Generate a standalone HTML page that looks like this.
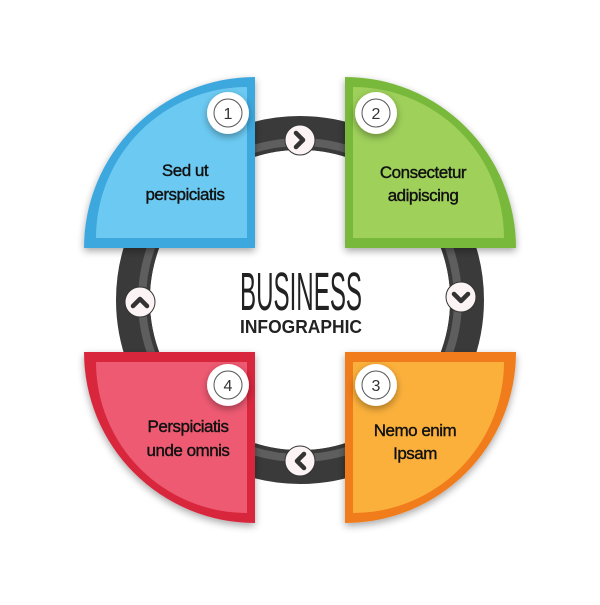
<!DOCTYPE html>
<html><head><style>body{margin:0;background:#fff}</style></head><body>
<svg width="600" height="600" viewBox="0 0 600 600" xmlns="http://www.w3.org/2000/svg" font-family="Liberation Sans, sans-serif">
<defs>
<filter id="sh" x="-20%" y="-20%" width="140%" height="140%"><feGaussianBlur in="SourceAlpha" stdDeviation="4"/><feOffset dx="0" dy="3"/><feComponentTransfer><feFuncA type="linear" slope="0.35"/></feComponentTransfer><feMerge><feMergeNode/><feMergeNode in="SourceGraphic"/></feMerge></filter>
</defs>
<circle cx="300" cy="300" r="167" fill="none" stroke="#3a3a3a" stroke-width="34"/>
<circle cx="300" cy="300" r="158" fill="none" stroke="#5e5e5e" stroke-width="8"/>
<circle cx="300" cy="300" r="150" fill="#fff"/>
<g filter="url(#sh)">
<path d="M255,248 L84,248 A171,171 0 0 1 255,77 Z" fill="#3ea8de"/>
<path d="M247,238 L96,238 A151,151 0 0 1 247,87 Z" fill="#6ccaf2"/>
</g>
<g filter="url(#sh)">
<path d="M345,248 L345,77 A171,171 0 0 1 516,248 Z" fill="#78b83a"/>
<path d="M353,238 L353,87 A151,151 0 0 1 504,238 Z" fill="#9ed05a"/>
</g>
<g filter="url(#sh)">
<path d="M255,352 L255,523 A171,171 0 0 1 84,352 Z" fill="#d8283c"/>
<path d="M247,362 L247,513 A151,151 0 0 1 96,362 Z" fill="#ee5a72"/>
</g>
<g filter="url(#sh)">
<path d="M345,352 L516,352 A171,171 0 0 1 345,523 Z" fill="#f07b1a"/>
<path d="M353,362 L504,362 A151,151 0 0 1 353,513 Z" fill="#fbb03a"/>
</g>
<g filter="url(#sh)" fill="#fff">
<circle cx="228" cy="113" r="21"/><circle cx="376" cy="113" r="21"/>
<circle cx="228" cy="385" r="21"/><circle cx="376" cy="385" r="21"/>
</g>
<g fill="none" stroke="#555" stroke-width="1">
<circle cx="228" cy="113" r="14"/><circle cx="376" cy="113" r="14"/>
<circle cx="228" cy="385" r="14"/><circle cx="376" cy="385" r="14"/>
</g>
<g font-size="16" fill="#333" text-anchor="middle">
<text x="228" y="119">1</text><text x="376" y="119">2</text>
<text x="228" y="391">4</text><text x="376" y="391">3</text>
</g>
<g fill="#fbf3f4" stroke="#333" stroke-width="1">
<circle cx="300" cy="140" r="15"/><circle cx="461" cy="297" r="15"/>
<circle cx="300" cy="461" r="15"/><circle cx="140" cy="302" r="15"/>
</g>
<g fill="none" stroke="#333" stroke-width="4.5" stroke-linecap="round" stroke-linejoin="round">
<path d="M296,133 L303,140 L296,147"/>
<path d="M454,294 L461,301 L468,294"/>
<path d="M304,454 L297,461 L304,468"/>
<path d="M133,306 L140,299 L147,306"/>
</g>
<g font-size="17" fill="#111" text-anchor="middle" letter-spacing="-0.5" stroke="#111" stroke-width="0.4">
<text x="185" y="176">Sed ut</text><text x="185" y="200">perspiciatis</text>
<text x="423" y="178">Consectetur</text><text x="423" y="201">adipiscing</text>
<text x="188" y="432">Perspiciatis</text><text x="188" y="456">unde omnis</text>
<text x="415" y="436">Nemo enim</text><text x="415" y="459">Ipsam</text>
</g>
<g transform="translate(301,310) scale(1,1.35)">
<text x="0" y="0" font-size="40" fill="#222" text-anchor="middle" textLength="122" lengthAdjust="spacingAndGlyphs">BUSINESS</text>
</g>
<text x="301" y="333" font-size="18" font-weight="bold" fill="#222" text-anchor="middle" textLength="122" lengthAdjust="spacingAndGlyphs">INFOGRAPHIC</text>
</svg>
</body></html>
